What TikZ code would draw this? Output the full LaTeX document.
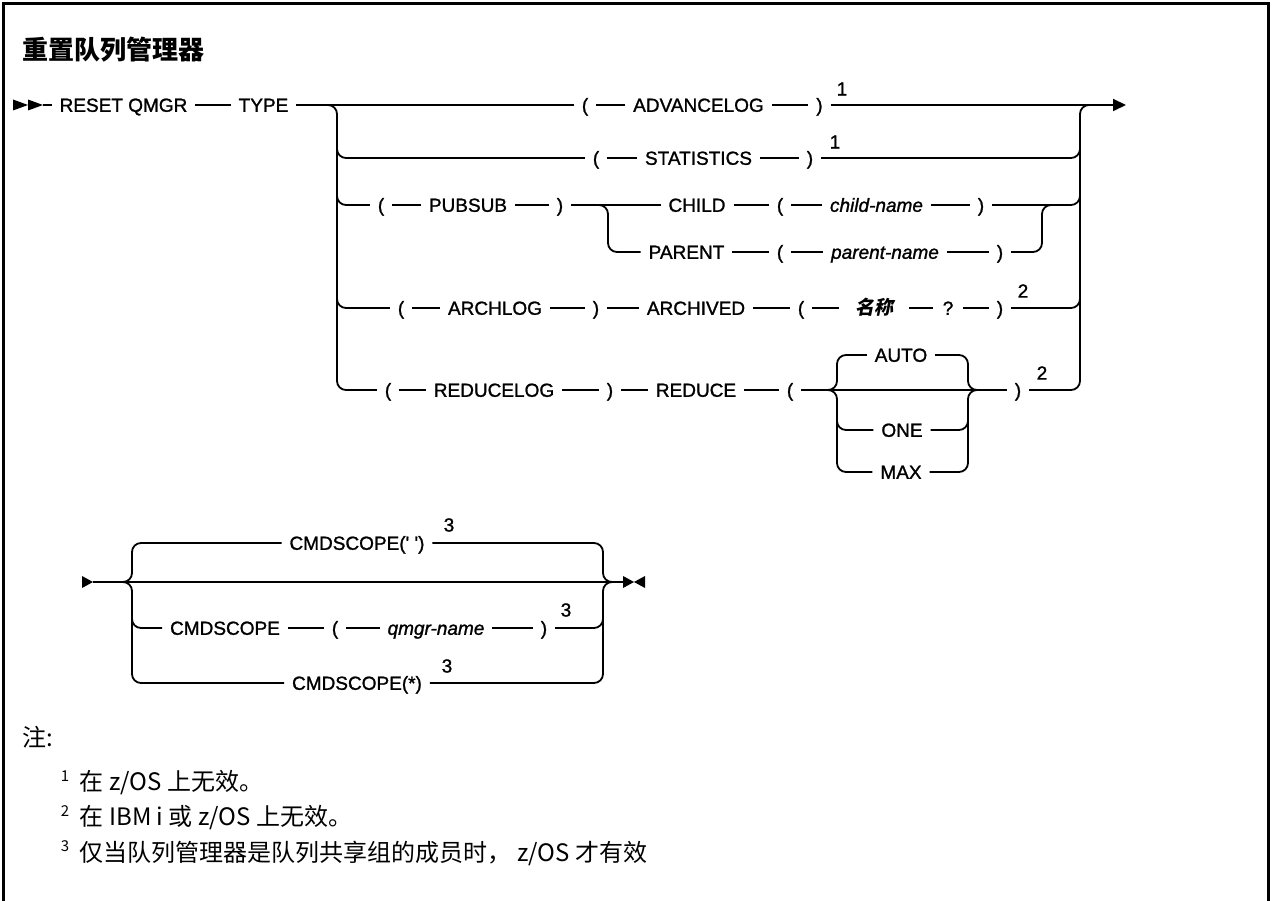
\documentclass[tikz,border=0pt]{standalone}
\usepackage{fontspec}
\usetikzlibrary{arrows.meta}
\newfontfamily\lblf{Liberation Sans}[Ligatures=TeXOff,FakeBold=1.2]
\newfontfamily\cjkf{Noto Sans CJK SC}
\newfontfamily\cjksl{Noto Sans CJK SC}[FakeSlant=0.2]
\newcommand\lbl{\lblf\fontsize{19}{22}\selectfont}
\newcommand\lblit{\lblf\itshape\fontsize{19}{22}\selectfont}
\newcommand\supf{\lblf\fontsize{19}{20}\selectfont}
\newcommand\namef{\cjksl\bfseries\fontsize{19}{22}\selectfont}
\newcommand\titlef{\cjkf\bfseries\fontsize{26}{30}\selectfont}
\newcommand\notef{\cjkf\fontsize{24}{28}\selectfont}
\newcommand\nsupf{\cjkf\fontsize{15}{18}\selectfont}
\begin{document}
\begin{tikzpicture}[x=1pt,y=-1pt,line width=1.8pt,
  lbl/.style={font=\lbl,inner sep=0pt,outer xsep=8pt,outer ysep=0pt,text height=17.6pt,text depth=4pt},
  itl/.style={lbl,font=\lblit},
  cjkname/.style={lbl,font=\namef,outer xsep=16pt},
  supnum/.style={font=\supf,inner sep=0pt},
  rc/.style={rounded corners=9pt},
  notetext/.style={font=\notef,inner sep=0pt,anchor=west},
  notesup/.style={font=\nsupf,inner sep=0pt},
  endarrow/.style={-{Triangle[length=13pt,width=12pt]}}]
\useasboundingbox (0,0) rectangle (1272,901);
\fill[white] (0,0) rectangle (1272,901);
\draw[line width=3pt] (3,910) -- (3,4) -- (1268,4) -- (1268,910);
% title
\node[font=\titlef,anchor=west,inner sep=0pt] (title) at (22,50) {重置队列管理器};
% start
\fill (13,99.5) -- (28,105) -- (13,110.5) -- cycle;
\fill (28,99.5) -- (43,105) -- (28,110.5) -- cycle;
\coordinate (s1) at (43,105);
\node[lbl] (reset) at (123.5,105) {RESET QMGR};
\node[lbl] (type) at (263.5,105) {TYPE};
\draw (s1) -- (reset);
\draw (reset) -- (type);
% row 1
\node[lbl] (a1) at (585,105) {(};
\node[lbl] (a2) at (698.5,105) {ADVANCELOG};
\node[lbl] (a3) at (819.5,105) {)};
\node[supnum] (a4) at (842,89) {1};
\coordinate (endarr) at (1126,105);
\draw (type) -- (a1);
\draw (a1) -- (a2);
\draw (a2) -- (a3);
\draw[endarrow] (a3) -- (endarr);
% row 2
\node[lbl] (b1) at (596,158) {(};
\node[lbl] (b2) at (698.5,158) {STATISTICS};
\node[lbl] (b3) at (810,158) {)};
\node[supnum] (b4) at (835,142) {1};
\draw[rc] (337,140) -- (337,158) -- (b1);
\draw (b1) -- (b2);
\draw (b2) -- (b3);
\draw[rc] (b3) -- (1080,158) -- (1080,140);
% row 3
\node[lbl] (c1) at (381,205) {(};
\node[lbl] (c2) at (468,205) {PUBSUB};
\node[lbl] (c3) at (560,205) {)};
\node[lbl] (c4) at (697,205) {CHILD};
\node[lbl] (c5) at (780,205) {(};
\node[itl] (c6) at (876.5,205) {child-name};
\node[lbl] (c7) at (981,205) {)};
\draw[rc] (337,185) -- (337,205) -- (c1);
\draw (c1) -- (c2);
\draw (c2) -- (c3);
\draw (c3) -- (c4);
\draw (c4) -- (c5);
\draw (c5) -- (c6);
\draw (c6) -- (c7);
\draw[rc] (c7) -- (1080,205) -- (1080,185);
% row 4
\node[lbl] (d1) at (686.5,252) {PARENT};
\node[lbl] (d2) at (780,252) {(};
\node[itl] (d3) at (885,252) {parent-name};
\node[lbl] (d4) at (1000,252) {)};
\draw[rc] (c3) -- (608,205) -- (608,252) -- (d1);
\draw (d1) -- (d2);
\draw (d2) -- (d3);
\draw (d3) -- (d4);
\draw[rc] (d4) -- (1042,252) -- (1042,205) -- (1062,205);
% row 5
\node[lbl] (e1) at (401,308) {(};
\node[lbl] (e2) at (495,308) {ARCHLOG};
\node[lbl] (e3) at (596,308) {)};
\node[lbl] (e4) at (696,308) {ARCHIVED};
\node[lbl] (e5) at (801,308) {(};
\node[cjkname] (e6) at (874,308) {名称};
\node[lbl,outer xsep=10pt] (e7) at (948,308) {?};
\node[lbl] (e8) at (1000,308) {)};
\node[supnum] (e9) at (1023,291) {2};
\draw[rc] (337,288) -- (337,308) -- (e1);
\draw (e1) -- (e2);
\draw (e2) -- (e3);
\draw (e3) -- (e4);
\draw (e4) -- (e5);
\draw (e5) -- (e6);
\draw (e6) -- (e7);
\draw (e7) -- (e8);
\draw[rc] (e8) -- (1080,308) -- (1080,288);
% row 6
\node[lbl] (f1) at (388,390) {(};
\node[lbl] (f2) at (494,390) {REDUCELOG};
\node[lbl] (f3) at (610,390) {)};
\node[lbl] (f4) at (696,390) {REDUCE};
\node[lbl] (f5) at (790,390) {(};
\node[lbl] (g1) at (901,355) {AUTO};
\node[lbl] (g2) at (902,430) {ONE};
\node[lbl] (g3) at (901,472) {MAX};
\node[lbl] (f6) at (1018,390) {)};
\node[supnum] (f7) at (1042,373) {2};
\draw[rc] (type) -- (337,105) -- (337,390) -- (f1);
\draw (f1) -- (f2);
\draw (f2) -- (f3);
\draw (f3) -- (f4);
\draw (f4) -- (f5);
\draw (f5) -- (f6);
\draw[rc] (g1) -- (837,355) -- (837,390) -- (824,390);
\draw[rc] (g3) -- (837,472) -- (837,390) -- (824,390);
\draw[rc] (837,410) -- (837,430) -- (g2);
\draw[rc] (g1) -- (968,355) -- (968,390) -- (981,390);
\draw[rc] (g3) -- (968,472) -- (968,390) -- (981,390);
\draw[rc] (g2) -- (968,430) -- (968,410);
\draw[rc] (f6) -- (1080,390) -- (1080,105) -- (1100,105);
% CMDSCOPE block
\fill (82,576) -- (93,582) -- (82,588) -- cycle;
\coordinate (h0) at (93,582);
\coordinate (hend) at (623,582);
\draw (h0) -- (hend);
\node[lbl] (i1) at (357,543) {CMDSCOPE(' ')};
\node[supnum] (i2) at (449,525) {3};
\node[lbl] (j1) at (225,628) {CMDSCOPE};
\node[lbl] (j2) at (335,628) {(};
\node[itl] (j3) at (436,628) {qmgr-name};
\node[lbl] (j4) at (544,628) {)};
\node[supnum] (j5) at (566,610) {3};
\node[lbl] (k1) at (357,683) {CMDSCOPE(*)};
\node[supnum] (k2) at (447,666) {3};
\draw[rc] (i1) -- (132,543) -- (132,582) -- (119,582);
\draw[rc] (k1) -- (132,683) -- (132,582) -- (119,582);
\draw[rc] (i1) -- (603,543) -- (603,582) -- (616,582);
\draw[rc] (k1) -- (603,683) -- (603,582) -- (616,582);
\draw[rc] (132,608) -- (132,628) -- (j1);
\draw (j1) -- (j2);
\draw (j2) -- (j3);
\draw (j3) -- (j4);
\draw[rc] (j4) -- (603,628) -- (603,608);
\fill (623,576) -- (634,582) -- (623,588) -- cycle;
\fill (645,576) -- (634,582) -- (645,588) -- cycle;
% notes
\node[notetext] (nh) at (22,737) {注:};
\node[notesup] (n1s) at (65,776) {1};
\node[notetext] (n1) at (79,783) {在 z/OS 上无效。};
\node[notesup] (n2s) at (65,811) {2};
\node[notetext] (n2) at (79,818) {在 IBM i 或 z/OS 上无效。};
\node[notesup] (n3s) at (65,846) {3};
\node[notetext] (n3) at (79,853) {仅当队列管理器是队列共享组的成员时， z/OS 才有效};
\end{tikzpicture}
\end{document}
